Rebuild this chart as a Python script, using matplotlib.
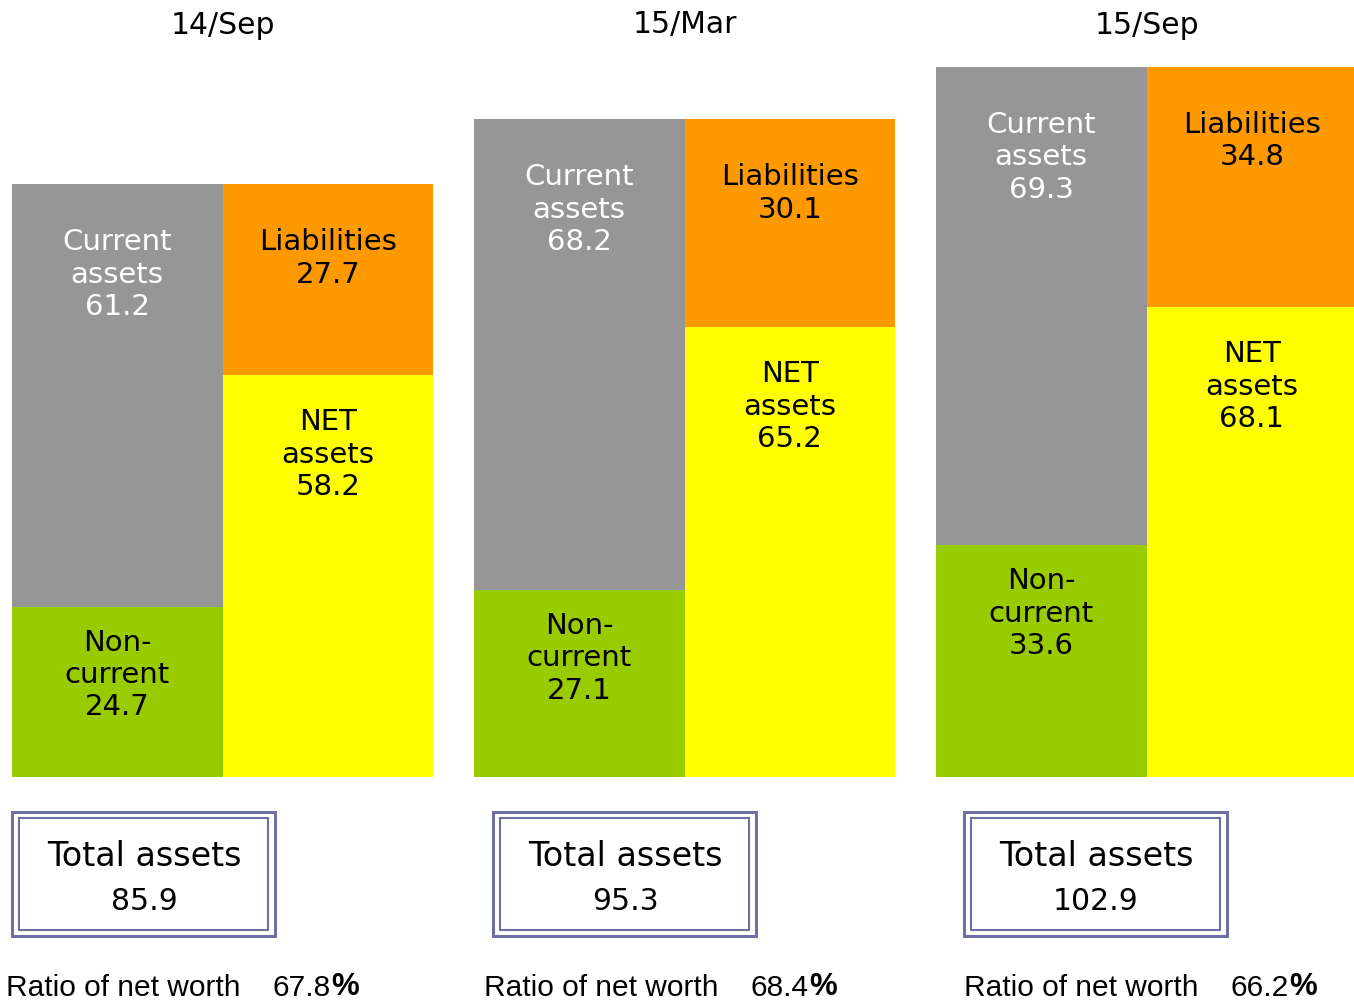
import matplotlib.pyplot as plt
from matplotlib.patches import Rectangle

# values (billions)
periods = ['14/Sep', '15/Mar', '15/Sep']
current_assets = [61.2, 68.2, 69.3]
non_current = [24.7, 27.1, 33.6]
liabilities = [27.7, 30.1, 34.8]
net_assets = [58.2, 65.2, 68.1]
total_assets = [85.9, 95.3, 102.9]
net_worth_ratio = [67.8, 68.4, 66.2]

GRAY = '#969696'
ORANGE = '#FF9900'
YELLOW = '#FFFF00'
GREEN = '#99CC00'
FRAME = '#6F6FA3'

W, H = 1354, 1001
base = 777          # pixel row of the bar baseline
px_per_unit = 6.9

fig = plt.figure(figsize=(W / 100, H / 100), dpi=100)

# bar axes: x in pixels, y in data units
ax = fig.add_axes([0, (H - base) / H, 1, base / H])
ax.set_xlim(0, W)
ax.set_ylim(0, base / px_per_unit)
ax.axis('off')

bw = 210.5
lefts = [12 + 462 * i for i in range(len(periods))]
xl = [l + bw / 2 for l in lefts]
xr = [l + bw * 1.5 for l in lefts]

ax.bar(xl, non_current, bw, color=GREEN, linewidth=0)
ax.bar(xl, current_assets, bw, bottom=non_current, color=GRAY, linewidth=0)
ax.bar(xr, net_assets, bw, color=YELLOW, linewidth=0)
ax.bar(xr, liabilities, bw, bottom=net_assets, color=ORANGE, linewidth=0)

lab = dict(ha='center', va='top', fontsize=21, textcoords='offset pixels',
           linespacing=1.2)
for i in range(len(periods)):
    top = non_current[i] + current_assets[i]
    ax.annotate(f'Current\nassets\n{current_assets[i]}', xy=(xl[i], top),
                xytext=(0, -44), color='white', **lab)
    ax.annotate(f'Non-\ncurrent\n{non_current[i]}', xy=(xl[i], non_current[i]),
                xytext=(0, -22), color='black', **lab)
    top = net_assets[i] + liabilities[i]
    ax.annotate(f'Liabilities\n{liabilities[i]}', xy=(xr[i], top),
                xytext=(0, -44), color='black', **lab)
    ax.annotate(f'NET\nassets\n{net_assets[i]}', xy=(xr[i], net_assets[i]),
                xytext=(0, -33), color='black', **lab)

# overlay in pixel coordinates for titles, boxes and ratios
ov = fig.add_axes([0, 0, 1, 1])
ov.set_xlim(0, W)
ov.set_ylim(H, 0)
ov.axis('off')
ov.patch.set_alpha(0)

box_left = [12, 493, 964]
ratio_left = [6, 484, 964]
for i in range(len(periods)):
    ov.text(lefts[i] + bw, 25, periods[i], ha='center', va='center', fontsize=21.5)

    bx = box_left[i]
    ov.add_patch(Rectangle((bx, 812), 263, 124, fill=False, ec=FRAME, lw=2.2))
    ov.add_patch(Rectangle((bx + 7, 818), 249, 112, fill=False, ec=FRAME, lw=1.5))
    ov.text(bx + 132, 857, 'Total assets', ha='center', va='center', fontsize=24)
    ov.text(bx + 132, 902, f'{total_assets[i]}', ha='center', va='center', fontsize=21.5)

    rx = ratio_left[i]
    ov.text(rx, 996, 'Ratio of net worth', ha='left', va='baseline',
            fontsize=21.5, family='Liberation Sans')
    t = ov.text(rx + 267, 996, f'{net_worth_ratio[i]}', ha='left', va='baseline',
                fontsize=21.5, family='Liberation Sans')
    ov.annotate('%', xy=(1, 0), xycoords=t, ha='left', va='bottom',
                fontsize=22.5, family='Liberation Sans', fontweight='bold')

fig.savefig('out.png', dpi=100)
